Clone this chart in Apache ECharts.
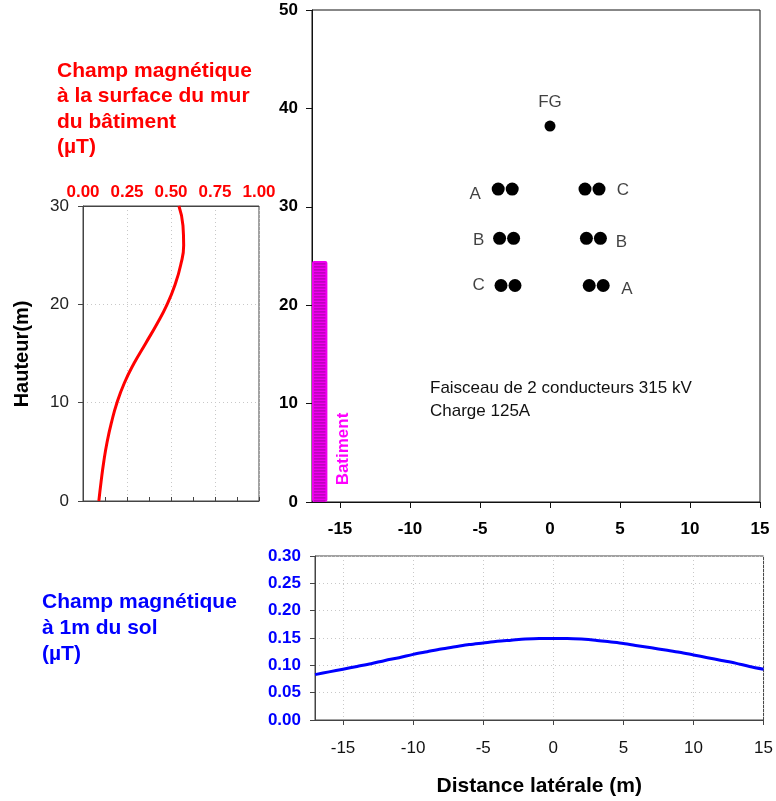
<!DOCTYPE html>
<html>
<head>
<meta charset="utf-8">
<script src="https://cdn.jsdelivr.net/npm/echarts@6/dist/echarts.min.js"></script>
<style>
  html, body { margin: 0; padding: 0; background: #fff; }
  #chart { width: 776px; height: 801px; }
</style>
</head>
<body>
<div id="chart"></div>
<script>
// champ au mur du batiment (uT) en fonction de la hauteur (m)
const wallHeights = [0, 2, 4, 6, 8, 10, 12, 14, 16, 18, 20, 22, 24, 26, 28, 30];
const wallField = [0.09, 0.103, 0.118, 0.137, 0.162, 0.193, 0.235, 0.29, 0.355, 0.42, 0.478, 0.523, 0.555, 0.572, 0.568, 0.545];

// champ a 1m du sol (uT) en fonction de la distance laterale (m)
const groundDist = [-17, -16, -15, -14, -13, -12, -11, -10, -9, -8, -7, -6, -5, -4, -3, -2, -1,
  0, 1, 2, 3, 4, 5, 6, 7, 8, 9, 10, 11, 12, 13, 14, 15];
const groundField = [0.083, 0.088, 0.093, 0.098, 0.103, 0.109, 0.114, 0.120, 0.125, 0.130, 0.134,
  0.138, 0.141, 0.144, 0.146, 0.148, 0.149, 0.149, 0.149, 0.148, 0.146, 0.143, 0.140, 0.136,
  0.132, 0.128, 0.124, 0.119, 0.114, 0.109, 0.104, 0.098, 0.093];

// conducteurs [x, y]
const conductors = [
  [-3.7, 31.8], [-2.7, 31.8], [2.5, 31.8], [3.5, 31.8],
  [-3.6, 26.8], [-2.6, 26.8], [2.6, 26.8], [3.6, 26.8],
  [-3.5, 22.0], [-2.5, 22.0], [2.8, 22.0], [3.8, 22.0]
];
const groundWire = [[0, 38.2]];
const phaseLabels = [
  ['A', -5.35, 31.3], ['C', 5.2, 31.7],
  ['B', -5.1, 26.6], ['B', 5.1, 26.4],
  ['C', -5.1, 22.0], ['A', 5.5, 21.6],
  ['FG', 0, 40.6]
];
// batiment : x de -17 a -15.9, hauteur 24.5
const building = [[-17, -15.9, 24.5]];

const distTicks = [-15, -10, -5, 0, 5, 10, 15];

const font = 'Liberation Sans, Arial, sans-serif';
const dotted = { show: true, lineStyle: { color: '#c8c8c8', type: [1, 3], width: 1 } };

const chart = echarts.init(document.getElementById('chart'), null, { renderer: 'canvas' });

chart.setOption({
  animation: false,
  textStyle: { fontFamily: font },
  title: [
    {
      text: 'Champ magnétique\nà la surface du mur\ndu bâtiment\n(\u00b5T)',
      left: 57, top: 58, padding: 0,
      textStyle: { color: '#ff0000', fontSize: 21, fontWeight: 'bold', lineHeight: 25.5, fontFamily: font }
    },
    {
      text: 'Champ magnétique\nà 1m du sol\n(\u00b5T)',
      left: 42, top: 589, padding: 0,
      textStyle: { color: '#0000ff', fontSize: 21, fontWeight: 'bold', lineHeight: 26, fontFamily: font }
    }
  ],
  graphic: [
    {
      type: 'text', x: 22, y: 354, rotation: Math.PI / 2,
      style: { text: 'Hauteur(m)', fill: '#000', font: 'bold 20px ' + font, align: 'center', verticalAlign: 'middle' }
    },
    {
      type: 'text', x: 343, y: 449, rotation: Math.PI / 2,
      style: { text: 'Batiment', fill: '#ff00ff', font: 'bold 17px ' + font, align: 'center', verticalAlign: 'middle' }
    },
    {
      type: 'text', x: 430, y: 377,
      style: { text: 'Faisceau de 2 conducteurs 315 kV\nCharge 125A', fill: '#111', font: '17px ' + font, lineHeight: 23 }
    }
  ],
  grid: [
    { left: 83, top: 206, width: 176, height: 295, show: true, borderColor: '#444', borderWidth: 1 },
    { left: 312, top: 10, width: 448, height: 492, show: true, borderColor: '#111', borderWidth: 1 },
    { left: 315, top: 556, width: 450, height: 164, show: true, borderColor: '#444', borderWidth: 1 }
  ],
  xAxis: [
    {
      gridIndex: 0, type: 'value', position: 'top', min: 0, max: 1, interval: 0.25,
      axisLine: { show: true, onZero: false, lineStyle: { color: '#444' } },
      axisTick: { show: false },
      axisLabel: { color: '#ff0000', fontWeight: 'bold', fontSize: 17, margin: 5,
        formatter: v => v.toFixed(2) },
      splitLine: dotted
    },
    {
      gridIndex: 0, type: 'value', position: 'bottom', min: 0, max: 1, interval: 0.125,
      axisLine: { show: true, onZero: false, lineStyle: { color: '#444' } },
      axisTick: { show: true, inside: true, length: 4, lineStyle: { color: '#444' } },
      axisLabel: { show: false },
      splitLine: { show: false }
    },
    {
      gridIndex: 1, type: 'value', min: -17, max: 15,
      axisLine: { show: true, onZero: false, lineStyle: { color: '#111' } },
      axisTick: { show: true, length: 6, customValues: distTicks, lineStyle: { color: '#111' } },
      axisLabel: { customValues: distTicks, color: '#000', fontWeight: 'bold', fontSize: 17, margin: 19 },
      splitLine: { show: false }
    },
    {
      gridIndex: 2, type: 'value', min: -17, max: 15,
      axisLine: { show: true, onZero: false, lineStyle: { color: '#444' } },
      axisTick: { show: true, length: 5, customValues: distTicks, lineStyle: { color: '#444' } },
      axisLabel: { customValues: distTicks, color: '#111', fontSize: 17, margin: 20 },
      splitLine: dotted,
      name: 'Distance latérale (m)', nameLocation: 'middle', nameGap: 56,
      nameTextStyle: { color: '#000', fontWeight: 'bold', fontSize: 21, fontFamily: font }
    }
  ],
  yAxis: [
    {
      gridIndex: 0, type: 'value', min: 0, max: 30, interval: 10,
      axisLine: { show: true, onZero: false, lineStyle: { color: '#444' } },
      axisTick: { show: true, length: 5, lineStyle: { color: '#444' } },
      axisLabel: { color: '#222', fontSize: 17, margin: 14 },
      splitLine: dotted
    },
    {
      gridIndex: 1, type: 'value', min: 0, max: 50, interval: 10,
      axisLine: { show: true, onZero: false, lineStyle: { color: '#111' } },
      axisTick: { show: true, length: 6, lineStyle: { color: '#111' } },
      axisLabel: { color: '#000', fontWeight: 'bold', fontSize: 17, margin: 14 },
      splitLine: { show: false }
    },
    {
      gridIndex: 2, type: 'value', min: 0, max: 0.3, interval: 0.05,
      axisLine: { show: true, onZero: false, lineStyle: { color: '#444' } },
      axisTick: { show: true, length: 5, lineStyle: { color: '#444' } },
      axisLabel: { color: '#0000ff', fontWeight: 'bold', fontSize: 17, margin: 14,
        formatter: v => v.toFixed(2) },
      splitLine: dotted
    }
  ],
  series: [
    {
      type: 'line', xAxisIndex: 0, yAxisIndex: 0, smooth: 0.5, symbol: 'none',
      lineStyle: { color: '#ff0000', width: 3 },
      data: wallHeights.map((h, i) => [wallField[i], h])
    },
    {
      type: 'custom', xAxisIndex: 2, yAxisIndex: 1,
      data: building,
      renderItem: (params, api) => {
        const p0 = api.coord([api.value(0), 0]);
        const p1 = api.coord([api.value(1), api.value(2)]);
        const x = p0[0], w = p1[0] - p0[0], top = p1[1], bottom = p0[1];
        const children = [{
          type: 'rect',
          shape: { x: x, y: top, width: w, height: bottom - top, r: 2 },
          style: { fill: '#ee00ee' }
        }];
        for (let y = top + 3; y < bottom - 1; y += 3) {
          children.push({
            type: 'line',
            shape: { x1: x + 2, y1: y, x2: x + w - 2, y2: y },
            style: { stroke: '#a000a0', lineWidth: 1 }
          });
        }
        return { type: 'group', children: children };
      }
    },
    {
      type: 'scatter', xAxisIndex: 2, yAxisIndex: 1, symbolSize: 13,
      itemStyle: { color: '#000', opacity: 1 },
      data: conductors
    },
    {
      type: 'scatter', xAxisIndex: 2, yAxisIndex: 1, symbolSize: 11,
      itemStyle: { color: '#000', opacity: 1 },
      data: groundWire
    },
    {
      type: 'scatter', xAxisIndex: 2, yAxisIndex: 1, symbolSize: 0,
      data: phaseLabels.map(d => ({ name: d[0], value: [d[1], d[2]] })),
      label: { show: true, position: 'inside', formatter: p => p.name, color: '#111', fontSize: 17, fontFamily: font }
    },
    {
      type: 'line', xAxisIndex: 3, yAxisIndex: 2, smooth: 0.3, symbol: 'none',
      lineStyle: { color: '#0000ff', width: 3 },
      data: groundDist.map((d, i) => [d, groundField[i]])
    }
  ]
});
</script>
</body>
</html>
